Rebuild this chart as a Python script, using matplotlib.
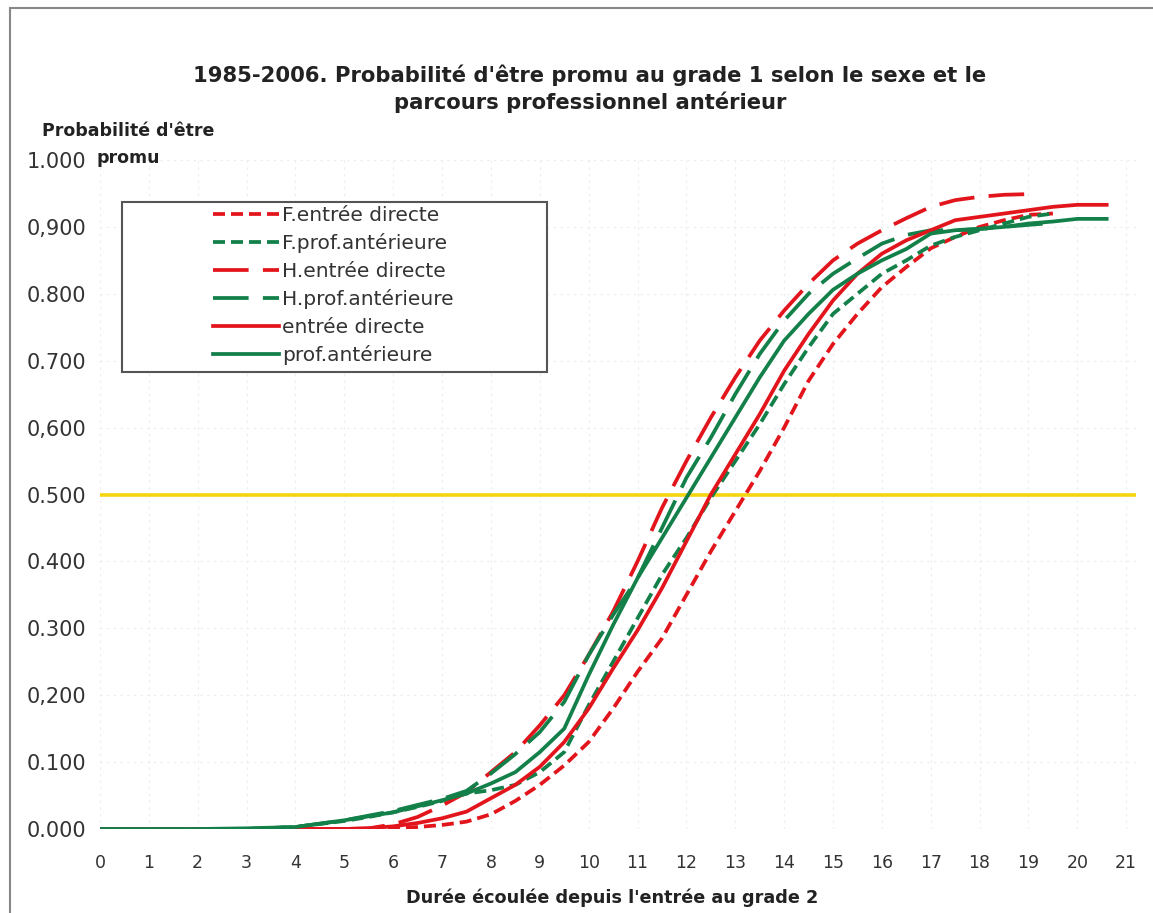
import matplotlib
matplotlib.use("Agg")
import matplotlib.pyplot as plt
from matplotlib.patches import Rectangle
import numpy as np

plt.rcParams['font.family'] = ['DejaVu Sans']

# durée écoulée (années) depuis l'entrée au grade 2
annees = [0, 1, 2, 3, 4, 5, 5.5, 6, 6.5, 7, 7.5, 8, 8.5, 9, 9.5, 10, 10.5, 11, 11.5,
          12, 12.5, 13, 13.5, 14, 14.5, 15, 15.5, 16, 16.5, 17, 17.5, 18, 18.5, 19,
          19.5, 20, 20.6]
nan = np.nan

f_entree_directe = [0, 0, 0, 0, 0, 0, 0, 0.001, 0.003, 0.006, 0.011, 0.022, 0.042, 0.066,
                    0.095, 0.13, 0.18, 0.235, 0.285, 0.35, 0.415, 0.475, 0.535, 0.6, 0.67,
                    0.725, 0.77, 0.81, 0.84, 0.868, 0.885, 0.9, 0.91, 0.918, 0.92, nan, nan]
f_prof_anterieure = [0, 0, 0, 0, 0.003, 0.012, 0.018, 0.025, 0.033, 0.042, 0.053, 0.058,
                     0.066, 0.085, 0.115, 0.185, 0.25, 0.315, 0.38, 0.435, 0.495, 0.55, 0.605,
                     0.665, 0.72, 0.77, 0.8, 0.83, 0.85, 0.872, 0.885, 0.895, 0.905,
                     0.915, 0.92, nan, nan]
h_entree_directe = [0, 0, 0, 0, 0, 0, 0.001, 0.007, 0.018, 0.035, 0.055, 0.085, 0.115,
                    0.155, 0.2, 0.26, 0.325, 0.4, 0.48, 0.55, 0.615, 0.675, 0.73, 0.775,
                    0.815, 0.85, 0.875, 0.895, 0.913, 0.93, 0.94, 0.945, 0.948, 0.949,
                    nan, nan, nan]
h_prof_anterieure = [0, 0, 0, 0, 0.003, 0.013, 0.02, 0.027, 0.036, 0.045, 0.057, 0.083,
                     0.112, 0.145, 0.19, 0.26, 0.32, 0.375, 0.45, 0.525, 0.585, 0.65, 0.71,
                     0.76, 0.8, 0.83, 0.853, 0.875, 0.888, 0.895, 0.895, 0.897, 0.9,
                     0.903, 0.906, nan, nan]
entree_directe = [0, 0, 0, 0, 0, 0, 0.001, 0.004, 0.009, 0.016, 0.026, 0.046, 0.066, 0.093,
                  0.13, 0.18, 0.24, 0.297, 0.36, 0.43, 0.5, 0.56, 0.62, 0.685, 0.74, 0.79,
                  0.83, 0.86, 0.88, 0.895, 0.91, 0.915, 0.92, 0.925, 0.93, 0.933, 0.933]
prof_anterieure = [0, 0, 0, 0.001, 0.003, 0.013, 0.019, 0.025, 0.034, 0.043, 0.053, 0.068,
                   0.085, 0.115, 0.15, 0.23, 0.305, 0.375, 0.435, 0.495, 0.555, 0.615, 0.675,
                   0.73, 0.77, 0.806, 0.83, 0.85, 0.867, 0.89, 0.895, 0.897, 0.9, 0.905,
                   0.908, 0.912, 0.912]

seuil = 0.5
yticks = [0, 0.1, 0.2, 0.3, 0.4, 0.5, 0.6, 0.7, 0.8, 0.9, 1.0]
ylabels = ["0.000", "0.100", "0,200", "0.300", "0.400", "0.500", "0,600", "0.700",
           "0.800", "0,900", "1.000"]
xticks = list(range(0, 22))

rouge = '#e3151c'
vert = '#13804a'

fig = plt.figure(figsize=(11.53, 9.13), dpi=100)
ax = fig.add_axes([100 / 1153, 1 - 829 / 913, 1036 / 1153, 669 / 913])

ax.axhline(seuil, color='#f5d50f', lw=2.6, zorder=1)

lw = 2.7
ax.plot(annees, f_entree_directe, color=rouge, lw=lw, dashes=(3.2, 1.6), label='F.entrée directe')
ax.plot(annees, f_prof_anterieure, color=vert, lw=lw, dashes=(3.2, 1.6), label='F.prof.antérieure')
ax.plot(annees, h_entree_directe, color=rouge, lw=lw, dashes=(9.5, 3.8), label='H.entrée directe')
ax.plot(annees, h_prof_anterieure, color=vert, lw=lw, dashes=(9.5, 3.8), label='H.prof.antérieure')
ax.plot(annees, entree_directe, color=rouge, lw=lw, label='entrée directe')
ax.plot(annees, prof_anterieure, color=vert, lw=lw, label='prof.antérieure')

ax.set_xlim(0, 21.2)
ax.set_ylim(0, 1.0)
ax.set_xticks(xticks)
ax.set_yticks(yticks)
ax.set_yticklabels(ylabels)
ax.tick_params(axis='y', length=0, labelsize=15, colors='#333333', pad=10)
ax.tick_params(axis='x', length=0, labelsize=12.5, colors='#333333', pad=18)
for s in ax.spines.values():
    s.set_visible(False)
ax.grid(True, color='#ececec', lw=0.8, ls=(0, (2, 4)))
ax.set_axisbelow(True)

# cadre de la légende
ax.add_patch(Rectangle((22 / 1036, (829 - 372) / 669), 425 / 1036, 170 / 669,
                       transform=ax.transAxes, fill=True, facecolor='white',
                       edgecolor='#555555', lw=1.5, zorder=5))
leg = ax.legend(loc='upper left', bbox_to_anchor=(113 / 1036, (829 - 206) / 669),
                frameon=False, fontsize=14.5, handlelength=3.3, handletextpad=0.15,
                labelspacing=0.42, borderpad=0, borderaxespad=0)
leg.set_zorder(6)
for t in leg.get_texts():
    t.set_color('#333333')

fig.text(590 / 1153, 1 - 89 / 913,
         "1985-2006. Probabilité d'être promu au grade 1 selon le sexe et le\nparcours professionnel antérieur",
         ha='center', va='center', fontsize=15.2, fontweight='bold', color='#222222',
         linespacing=1.3)
fig.text(128 / 1153, 1 - 131 / 913, "Probabilité d'être", ha='center', va='center',
         fontsize=12.5, fontweight='bold', color='#222222')
fig.text(128 / 1153, 1 - 158 / 913, "promu", ha='center', va='center',
         fontsize=12.5, fontweight='bold', color='#222222')
fig.text(612 / 1153, 1 - 898 / 913, "Durée écoulée depuis l'entrée au grade 2",
         ha='center', va='center', fontsize=12.7, fontweight='bold', color='#222222')

fig.add_artist(Rectangle((10 / 1153, -0.01), 1.02, 1 - 8 / 913 + 0.01,
                         transform=fig.transFigure, fill=False, edgecolor='#888888', lw=1.5))

fig.savefig('out.png', dpi=100)
